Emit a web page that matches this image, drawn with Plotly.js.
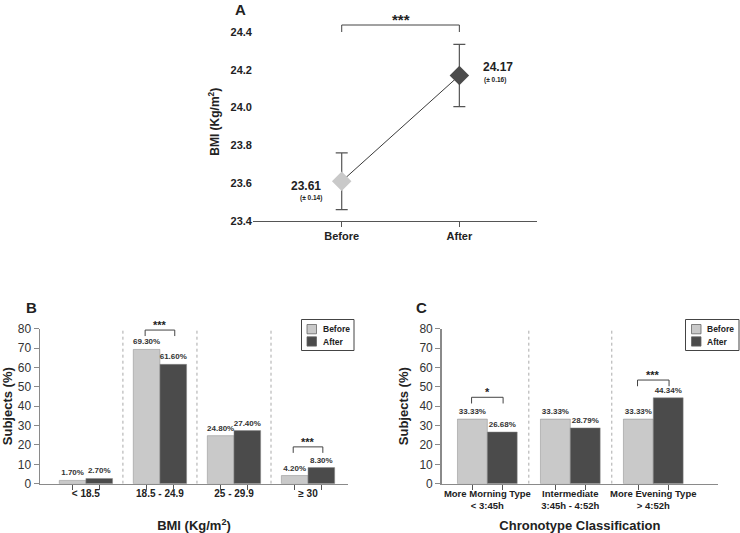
<!DOCTYPE html>
<html>
<head>
<meta charset="utf-8">
<script src="https://cdn.plot.ly/plotly-3.0.1.min.js"></script>
<style>html,body{margin:0;padding:0;background:#fff;overflow:hidden;}#chart{width:740px;height:533px;overflow:hidden;}</style>
</head>
<body>
<div id="chart"></div>
<script>
// ---- Panel A data ----
var aCats = ['Before', 'After'];
var aMeans = [23.61, 24.17];
var aErr = [0.15, 0.165];
var aSemLabels = ['(± 0.14)', '(± 0.16)'];

// ---- Series names ----
var seriesNames = ['Before', 'After'];

// ---- Panel B data ----
var bmiCats = ['&lt; 18.5', '18.5 - 24.9', '25 - 29.9', '≥ 30'];
var bmiBefore = [1.7, 69.3, 24.8, 4.2];
var bmiAfter = [2.7, 61.6, 27.4, 8.3];
var bmiSig = ['', '***', '', '***'];
var bmiSigLevel = [null, 79.3, null, 19];

// ---- Panel C data ----
var chronoCats = ['More Morning Type<br>&lt; 3:45h', 'Intermediate<br>3:45h - 4:52h', 'More Evening Type<br>&gt; 4:52h'];
var chronoBefore = [33.33, 33.33, 33.33];
var chronoAfter = [26.68, 28.79, 44.34];
var chronoSig = ['*', '', '***'];
var chronoSigLevel = [44.6, null, 53.5];

var LIGHT = '#c9c9c9', DARK = '#4b4b4b';
var COLORS = [LIGHT, DARK];
var FONT = 'Liberation Sans, Arial, sans-serif';
var TXT = '#222';
var BARGAP = 0.28;
var half = (1 - BARGAP) / 4;

function px(x){return x/740;}
function py(y){return 1 - y/533;}

var traces = [];
traces.push({
  type: 'scatter', mode: 'lines+markers', x: aCats, y: aMeans,
  xaxis: 'x', yaxis: 'y', showlegend: false,
  line: {color: '#3a3a3a', width: 1},
  marker: {symbol: 'diamond', size: 15, color: COLORS},
  error_y: {type: 'data', array: aErr, visible: true, color: '#555', thickness: 1.2, width: 6},
  cliponaxis: false
});

function barTrace(name, cats, vals, color, xa, ya){
  return {
    type: 'bar', name: name, x: cats, y: vals, xaxis: xa, yaxis: ya,
    marker: {color: color, line: {color: '#888', width: 0.5}},
    texttemplate: '%{y:.2f}%', textposition: 'outside', cliponaxis: false,
    constraintext: 'none',
    textfont: {family: FONT, size: 8, color: '#333', weight: 'bold'},
    showlegend: false, hoverinfo: 'skip'
  };
}
traces.push(barTrace(seriesNames[0], bmiCats, bmiBefore, LIGHT, 'x2', 'y2'));
traces.push(barTrace(seriesNames[1], bmiCats, bmiAfter, DARK, 'x2', 'y2'));
traces.push(barTrace(seriesNames[0], chronoCats, chronoBefore, LIGHT, 'x3', 'y3'));
traces.push(barTrace(seriesNames[1], chronoCats, chronoAfter, DARK, 'x3', 'y3'));

traces.push({type: 'scatter', mode: 'markers', x: [null], y: [null], xaxis: 'x4', yaxis: 'y2', showlegend: false, hoverinfo: 'skip'});
traces.push({type: 'scatter', mode: 'markers', x: [null], y: [null], xaxis: 'x5', yaxis: 'y3', showlegend: false, hoverinfo: 'skip'});

function barTicks(n){
  var t = [];
  for (var i = 0; i < n; i++){ t.push(i - half); t.push(i + half); }
  return t;
}

var shapes = [];
var annotations = [];

// Panel A bracket
shapes.push({type: 'path', xref: 'x', yref: 'y',
  path: 'M0,24.4 L0,24.437 L1,24.437 L1,24.4', line: {color: '#444', width: 1}});
annotations.push({xref: 'x', yref: 'y', x: 0.5, y: 24.437, text: '<b>***</b>', showarrow: false,
  yanchor: 'bottom', yshift: -5, font: {family: FONT, size: 15, color: TXT}});
annotations.push({xref: 'x', yref: 'y', x: 0, y: aMeans[0], text: '<b>' + aMeans[0].toFixed(2) + '</b>', showarrow: false,
  xanchor: 'right', xshift: -19, yshift: -5, font: {family: FONT, size: 12, color: TXT}});
annotations.push({xref: 'x', yref: 'y', x: 0, y: aMeans[0], text: '<b>' + aSemLabels[0] + '</b>', showarrow: false,
  xanchor: 'center', xshift: -31, yshift: -17, font: {family: FONT, size: 6.5, color: TXT}});
annotations.push({xref: 'x', yref: 'y', x: 1, y: aMeans[1], text: '<b>' + aMeans[1].toFixed(2) + '</b>', showarrow: false,
  xanchor: 'left', xshift: 22, yshift: 8, font: {family: FONT, size: 12, color: TXT}});
annotations.push({xref: 'x', yref: 'y', x: 1, y: aMeans[1], text: '<b>' + aSemLabels[1] + '</b>', showarrow: false,
  xanchor: 'center', xshift: 36, yshift: -5, font: {family: FONT, size: 6.5, color: TXT}});

function sigBrackets(sig, lvl, xref, yref, drop, w){
  for (var i = 0; i < sig.length; i++){
    if (!sig[i]) continue;
    shapes.push({type: 'path', xref: xref, yref: yref,
      path: 'M' + (i - w) + ',' + (lvl[i] - drop) + ' L' + (i - w) + ',' + lvl[i] + ' L' + (i + w) + ',' + lvl[i] + ' L' + (i + w) + ',' + (lvl[i] - drop),
      line: {color: '#444', width: 1}});
    annotations.push({xref: xref, yref: yref, x: i, y: lvl[i], text: '<b>' + sig[i] + '</b>', showarrow: false,
      yanchor: 'bottom', yshift: -3, font: {family: FONT, size: 11, color: TXT}});
  }
}
function separators(n, xref, yref){
  for (var i = 0; i < n - 1; i++){
    shapes.push({type: 'line', xref: xref, yref: yref, x0: i + 0.5, x1: i + 0.5, y0: 0, y1: 80,
      line: {color: '#aaa', width: 1, dash: 'dot'}});
  }
}
separators(bmiCats.length, 'x2', 'y2');
separators(chronoCats.length, 'x3', 'y3');
sigBrackets(bmiSig, bmiSigLevel, 'x2', 'y2', 3.1, 0.2);
sigBrackets(chronoSig, chronoSigLevel, 'x3', 'y3', 3.2, 0.19);

// manual legends (paper pixel positions)
function legendBox(x0, y0, w, h, swX){
  shapes.push({type: 'rect', xref: 'paper', yref: 'paper', x0: px(x0), x1: px(x0 + w), y0: py(y0 + h), y1: py(y0),
    line: {color: '#444', width: 1}, fillcolor: '#fff', layer: 'above'});
  for (var k = 0; k < seriesNames.length; k++){
    var sy = y0 + 5 + k * 12.3;
    shapes.push({type: 'rect', xref: 'paper', yref: 'paper', x0: px(x0 + swX), x1: px(x0 + swX + 9.5), y0: py(sy + 9.3), y1: py(sy),
      line: {color: '#666', width: 0.8}, fillcolor: COLORS[k], layer: 'above'});
    annotations.push({xref: 'paper', yref: 'paper', x: px(x0 + swX + 13.5), y: py(sy + 4.7), text: '<b>' + seriesNames[k] + '</b>',
      showarrow: false, xanchor: 'left', yanchor: 'middle', font: {family: FONT, size: 8.5, color: TXT}});
  }
}
legendBox(301.5, 319.5, 52.5, 31, 5.5);
legendBox(685.5, 319.5, 53.5, 31, 6);

[['A', 240, 10], ['B', 31, 307], ['C', 422, 307]].forEach(function(p){
  annotations.push({xref: 'paper', yref: 'paper', x: px(p[1]), y: py(p[2]), text: '<b>' + p[0] + '</b>',
    showarrow: false, xanchor: 'center', yanchor: 'middle', font: {family: FONT, size: 15, color: TXT}});
});

var tickFontNorm = {family: FONT, size: 12, color: '#333'};
var barYAxis = function(dom, anchorX){
  return {domain: dom, anchor: anchorX, range: [0, 80], tickvals: [0,10,20,30,40,50,60,70,80], showgrid: false, zeroline: false,
    showline: true, linecolor: '#8a8a8a', linewidth: 1.5, ticks: 'outside', ticklen: 5, tickcolor: '#8a8a8a',
    tickfont: tickFontNorm, fixedrange: true,
    title: {text: '<b>Subjects (%)</b>', font: {family: FONT, size: 13, color: TXT}, standoff: 8}};
};
var yDomBar = [py(483.7), py(328.7)];

var layout = {
  width: 740, height: 533, margin: {l: 0, r: 0, t: 0, b: 0},
  paper_bgcolor: '#fff', plot_bgcolor: 'rgba(0,0,0,0)',
  font: {family: FONT, color: TXT},
  barmode: 'group', bargap: BARGAP, bargroupgap: 0,
  showlegend: false,
  xaxis: {domain: [px(253), px(537)], anchor: 'y', range: [-0.754, 1.66], showgrid: false, zeroline: false,
    showline: true, linecolor: '#555', linewidth: 1, ticks: 'outside', ticklen: 5, tickcolor: '#555',
    tickfont: {family: FONT, size: 11, color: TXT, weight: 'bold'}},
  yaxis: {domain: [py(221), py(221 - 1.05 * 189)], anchor: 'x', range: [23.4, 24.45],
    tickvals: [23.4, 23.6, 23.8, 24.0, 24.2, 24.4], ticktext: ['23.4','23.6','23.8','24.0','24.2','24.4'],
    showgrid: false, zeroline: false, showline: false, ticks: '',
    tickfont: {family: FONT, size: 11, color: TXT, weight: 'bold'},
    title: {text: '<b>BMI (Kg/m<sup>2</sup>)</b>', font: {family: FONT, size: 12, color: TXT}, standoff: 8}},
  xaxis2: {domain: [px(40), px(348)], anchor: 'y2', range: [-0.62, 3.54], type: 'category',
    showgrid: false, zeroline: false, showline: true, linecolor: '#8a8a8a', linewidth: 1.5, ticks: '',
    tickfont: {family: FONT, size: 10, color: TXT, weight: 'bold'},
    title: {text: '<b>BMI (Kg/m<sup>2</sup>)</b>', font: {family: FONT, size: 13, color: TXT}, standoff: 24}},
  yaxis2: barYAxis(yDomBar, 'x2'),
  xaxis3: {domain: [px(441.7), px(718)], anchor: 'y3', range: [-0.55, 2.78], type: 'category',
    showgrid: false, zeroline: false, showline: true, linecolor: '#8a8a8a', linewidth: 1.5, ticks: '',
    tickfont: {family: FONT, size: 9.5, color: TXT, weight: 'bold'},
    title: {text: '<b>Chronotype Classification</b>', font: {family: FONT, size: 13, color: TXT}, standoff: 12}},
  yaxis3: barYAxis(yDomBar, 'x3'),
  xaxis4: {overlaying: 'x2', anchor: 'y2', domain: [px(40), px(348)], range: [-0.62, 3.54], tickvals: barTicks(bmiCats.length),
    showticklabels: false, ticks: 'outside', ticklen: 5, tickcolor: '#555', showgrid: false, zeroline: false, showline: false},
  xaxis5: {overlaying: 'x3', anchor: 'y3', domain: [px(441.7), px(718)], range: [-0.55, 2.78], tickvals: barTicks(chronoCats.length),
    showticklabels: false, ticks: 'outside', ticklen: 5, tickcolor: '#555', showgrid: false, zeroline: false, showline: false},
  shapes: shapes,
  annotations: annotations
};

Plotly.newPlot('chart', traces, layout, {displayModeBar: false, staticPlot: true});
</script>
</body>
</html>
